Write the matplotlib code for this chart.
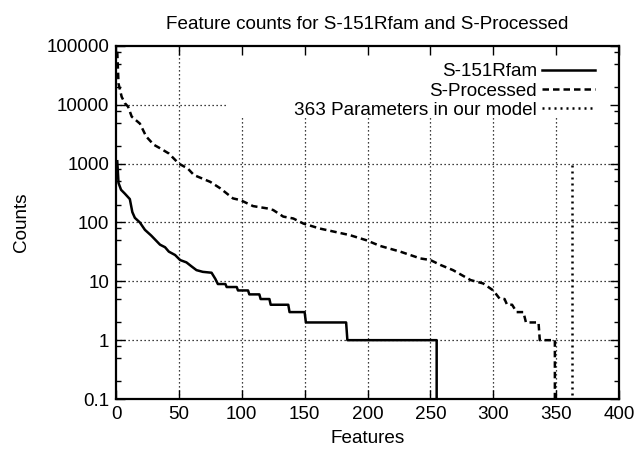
import numpy as np
import matplotlib
matplotlib.use("Agg")
import matplotlib.pyplot as plt
from matplotlib.ticker import LogLocator, NullFormatter, FixedLocator

plt.rcParams['font.family'] = ['Liberation Sans', 'DejaVu Sans']

# S-151Rfam feature counts
rfam_x = [1, 2, 4, 7, 11, 13, 15, 19, 23, 28, 35, 39, 42, 47, 51, 56, 60, 64, 69, 76,
          79, 81, 87, 88, 96, 97, 105, 106, 114, 115, 122, 123, 137, 138, 150, 151,
          183, 184, 255, 256, 363]
rfam_y = [1100, 470, 360, 310, 250, 150, 120, 100, 75, 60, 42, 38, 32, 28, 23, 21, 18, 15.5, 14.5, 14,
          11, 9, 9, 8, 8, 7, 7, 6, 6, 5, 5, 4, 4, 3, 3, 2,
          2, 1, 1, 0, 0]

# S-Processed feature counts
proc_x = [1, 2, 4.5, 7, 9.6, 12.5, 19, 24, 30, 35, 42, 50, 57, 62, 75, 83, 93, 99, 109,
          120, 125, 133, 141, 149, 162, 186, 199, 210, 226, 242, 250, 258, 268, 282, 292,
          300, 305, 309, 311, 315, 318.6, 324, 326, 336, 337, 349, 350, 363]
proc_y = [80000, 23000, 13700, 10700, 9300, 6300, 4800, 2900, 2100, 1830, 1490, 1000, 830, 640, 490, 380, 257, 240, 190,
          174, 163, 126, 117, 96, 79, 61, 50, 40, 32, 24.5, 23, 19, 15.5, 10.5, 9.2,
          7, 5.1, 5, 4, 4, 3, 3, 2, 2, 1, 1, 0, 0]

# number of parameters in the model
n_params = 363
param_y = [0, 1000]

xticks = [0, 50, 100, 150, 200, 250, 300, 350, 400]
yticks = [0.1, 1, 10, 100, 1000, 10000, 100000]
ytick_labels = ['0.1', '1', '10', '100', '1000', '10000', '100000']

fig = plt.figure(figsize=(6.34, 4.54), dpi=100)
ax = fig.add_axes([116/634, 1 - 399/454, 503/634, 353/454])

ax.set_yscale('log')
ax.set_xlim(0, 400)
ax.set_ylim(0.1, 100000)

# grid, left open where the key sits (gnuplot style)
key_x, key_y = 88, 6700
grid_kw = dict(color='black', linestyle=(0, (1, 2.2)), linewidth=0.9, zorder=1)
for xv in xticks[1:-1]:
    top = key_y if xv > key_x else 100000
    ax.vlines(xv, 0.1, top, **grid_kw)
for yv in yticks[1:-1]:
    right = key_x if yv > key_y else 400
    ax.hlines(yv, 0, right, **grid_kw)

ax.plot(rfam_x, rfam_y, color='black', linewidth=1.8, label='S-151Rfam', zorder=3)
ax.plot(proc_x, proc_y, color='black', linewidth=1.8, linestyle=(0, (2.6, 1.6)),
        label='S-Processed', zorder=3)
ax.plot([n_params, n_params], param_y, color='black', linewidth=1.8,
        linestyle=(0, (0.8, 1.6)), label='363 Parameters in our model', zorder=3)

ax.xaxis.set_major_locator(FixedLocator(xticks))
ax.yaxis.set_major_locator(FixedLocator(yticks))
ax.set_yticklabels(ytick_labels)
ax.yaxis.set_minor_locator(LogLocator(base=10, subs=(2, 5, 8)))
ax.yaxis.set_minor_formatter(NullFormatter())
ax.tick_params(which='both', direction='in', top=True, right=True, labelsize=13.6,
               width=1.0, colors='black')
ax.tick_params(which='major', length=6.5, pad=5)
ax.tick_params(which='minor', length=3.5)
for s in ax.spines.values():
    s.set_linewidth(1.6)

ax.set_title('Feature counts for S-151Rfam and S-Processed', fontsize=13.6, pad=12)
ax.set_xlabel('Features', fontsize=13.6, labelpad=5)
ax.set_ylabel('Counts', fontsize=13.6, labelpad=12)

leg = ax.legend(loc='upper right', markerfirst=False, frameon=False, alignment='right',
                fontsize=13.6, handlelength=2.8, handletextpad=0.3, labelspacing=0.1,
                borderaxespad=0.4, bbox_to_anchor=(0.983, 0.994))

fig.savefig('out.png', dpi=100)
